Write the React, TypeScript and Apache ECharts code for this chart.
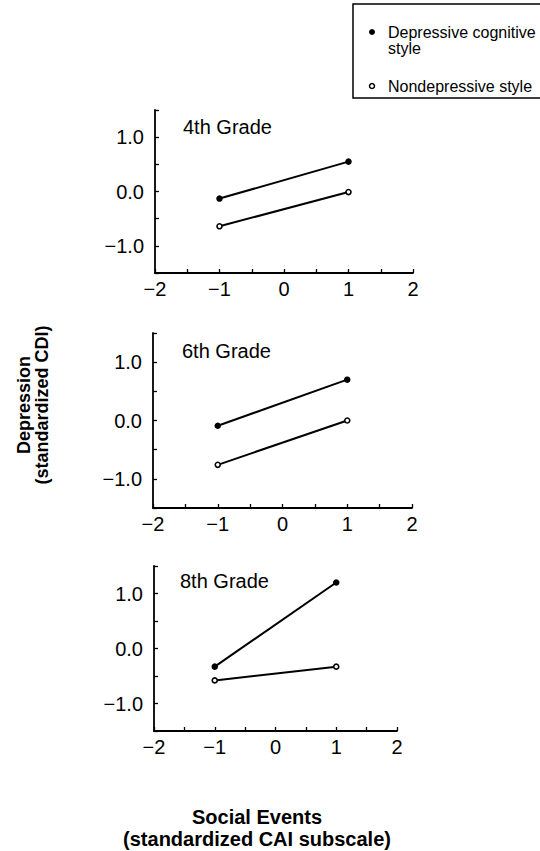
import React, { useEffect, useRef } from 'react';
import * as echarts from 'echarts';

const grades = ['4th Grade', '6th Grade', '8th Grade'];
const socialEvents = [-1, 1];
const depressiveStyle = [[-0.13, 0.55], [-0.09, 0.7], [-0.33, 1.2]];
const nondepressiveStyle = [[-0.64, -0.01], [-0.76, 0.0], [-0.58, -0.33]];
const seriesNames = ['Depressive cognitive style', 'Nondepressive style'];
const yLabelValues = [-1, 0, 1];
const xLabelValues = [-2, -1, 0, 1, 2];

const FONT = '"Liberation Sans", Arial, sans-serif';

const panels = [
  { left: 155, top: 110, width: 258, height: 163, titleX: 183, titleY: 128 },
  { left: 153, top: 333, width: 259, height: 175, titleX: 182, titleY: 352 },
  { left: 154, top: 566, width: 243, height: 165, titleX: 180, titleY: 582 },
];

const minus = (s: string) => s.replace('-', '\u2212');

export default function App() {
  const ref = useRef<HTMLDivElement>(null);

  useEffect(() => {
    if (!ref.current) return;
    const chart = echarts.init(ref.current, null, { renderer: 'svg' });

    const grid = panels.map((p) => ({
      left: p.left,
      top: p.top,
      width: p.width,
      height: p.height,
      containLabel: false,
    }));

    const axisCommon = {
      axisLine: { show: true, onZero: false, lineStyle: { color: '#000', width: 1.8 } },
      axisTick: { show: true, inside: true, length: 4, lineStyle: { color: '#000', width: 1.3 } },
      splitLine: { show: false },
    };

    const xAxis = panels.map((_, i) => ({
      type: 'value',
      gridIndex: i,
      min: -2,
      max: 2,
      interval: 0.5,
      ...axisCommon,
      axisLabel: {
        show: true,
        color: '#000',
        fontFamily: FONT,
        fontSize: 20,
        margin: 6,
        showMinLabel: true,
        showMaxLabel: true,
        formatter: (v: number) =>
          xLabelValues.some((t) => Math.abs(t - v) < 1e-6) ? minus(String(Math.round(v))) : '',
      },
    }));

    const yAxis = panels.map((_, i) => ({
      type: 'value',
      gridIndex: i,
      min: -1.5,
      max: 1.5,
      interval: 0.5,
      ...axisCommon,
      axisLabel: {
        show: true,
        color: '#000',
        fontFamily: FONT,
        fontSize: 20,
        margin: 11,
        formatter: (v: number) =>
          yLabelValues.some((t) => Math.abs(t - v) < 1e-6) ? minus(v.toFixed(1)) : '',
      },
    }));

    const series: any[] = [];
    panels.forEach((_, i) => {
      series.push({
        name: seriesNames[0],
        type: 'line',
        xAxisIndex: i,
        yAxisIndex: i,
        data: socialEvents.map((x, k) => [x, depressiveStyle[i][k]]),
        symbol: 'circle',
        symbolSize: 6.5,
        itemStyle: { color: '#000' },
        lineStyle: { color: '#000', width: 2 },
      });
      series.push({
        name: seriesNames[1],
        type: 'line',
        xAxisIndex: i,
        yAxisIndex: i,
        data: socialEvents.map((x, k) => [x, nondepressiveStyle[i][k]]),
        symbol: 'circle',
        symbolSize: 5,
        itemStyle: { color: '#fff', borderColor: '#000', borderWidth: 1.6 },
        lineStyle: { color: '#000', width: 2 },
      });
    });

    const title = grades.map((g, i) => ({
      text: g,
      left: panels[i].titleX,
      top: panels[i].titleY - 11,
      padding: 0,
      textStyle: { fontFamily: FONT, fontSize: 20, fontWeight: 'normal', color: '#000' },
    }));

    const graphic = [
      {
        type: 'polyline',
        shape: { points: [[560, 4], [353, 4], [353, 98], [560, 98]] },
        style: { fill: 'none', stroke: '#000', lineWidth: 1.5 },
      },
      { type: 'circle', shape: { cx: 372, cy: 32, r: 3 }, style: { fill: '#000' } },
      {
        type: 'circle',
        shape: { cx: 372, cy: 86, r: 2.5 },
        style: { fill: '#fff', stroke: '#000', lineWidth: 1.5 },
      },
      {
        type: 'text',
        x: 388,
        y: 24,
        style: {
          text: 'Depressive cognitive\nstyle',
          fontFamily: FONT,
          fontSize: 16,
          lineHeight: 16,
          fill: '#000',
          align: 'left',
          verticalAlign: 'top',
        },
      },
      {
        type: 'text',
        x: 388,
        y: 86,
        style: {
          text: 'Nondepressive style',
          fontFamily: FONT,
          fontSize: 16,
          fill: '#000',
          align: 'left',
          verticalAlign: 'middle',
        },
      },
      {
        type: 'text',
        x: 33,
        y: 405,
        rotation: Math.PI / 2,
        style: {
          text: 'Depression\n(standardized CDI)',
          fontFamily: FONT,
          fontSize: 18,
          fontWeight: 'bold',
          lineHeight: 18,
          fill: '#000',
          align: 'center',
          verticalAlign: 'middle',
        },
      },
      {
        type: 'text',
        x: 257,
        y: 828,
        style: {
          text: 'Social Events\n(standardized CAI subscale)',
          fontFamily: FONT,
          fontSize: 20,
          fontWeight: 'bold',
          lineHeight: 22,
          fill: '#000',
          align: 'center',
          verticalAlign: 'middle',
        },
      },
    ];

    chart.setOption({
      animation: false,
      backgroundColor: '#fff',
      title,
      grid,
      xAxis,
      yAxis,
      series,
      graphic,
    });

    return () => chart.dispose();
  }, []);

  return (
    <div
      ref={ref}
      style={{ position: 'absolute', left: 0, top: 0, width: 540, height: 851, background: '#fff' }}
    />
  );
}
